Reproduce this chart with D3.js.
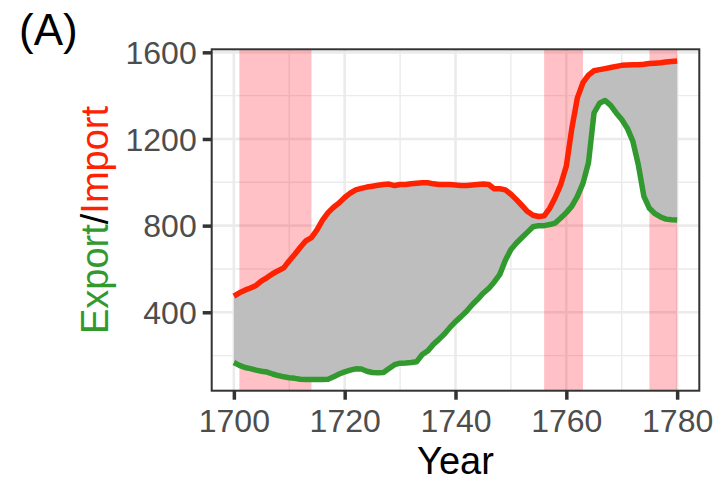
<!DOCTYPE html>
<html>
<head>
<meta charset="utf-8">
<script src="https://cdn.jsdelivr.net/npm/d3@7"></script>
<style>
  html, body { margin: 0; padding: 0; background: #fff; }
  svg { display: block; font-family: "Liberation Sans", Arial, sans-serif; }
</style>
</head>
<body>
<svg id="chart" width="714" height="481"></svg>
<script>
// Years of the series
const years = d3.range(1700, 1781);

// Imports (upper line)
const imports = [
  475, 490, 502, 512, 524, 545, 560, 578, 592, 605,
  638, 668, 700, 730, 745, 780, 825, 860, 885, 905,
  930, 950, 965, 972, 978, 982, 986, 990, 992, 985,
  990, 990, 993, 996, 998, 998, 993, 990, 990, 990,
  988, 985, 985, 988, 990, 992, 990, 970, 970, 965,
  945, 920, 893, 865, 848, 842, 845, 880, 930, 990,
  1075, 1250, 1390, 1460, 1495, 1515, 1520, 1525, 1530, 1535,
  1540, 1542, 1543, 1543, 1545, 1548, 1550, 1552, 1555, 1558,
  1560
];

// Exports (lower line)
const exports = [
  168, 155, 145, 140, 133, 128, 124, 115, 108, 102,
  98, 95, 91, 90, 90, 90, 90, 91, 102, 115,
  125, 133, 139, 138, 128, 122, 121, 122, 140, 158,
  165, 166, 168, 172, 205, 222, 252, 275, 300, 330,
  357, 380, 405, 435, 460, 488, 510, 540, 575, 640,
  690, 720, 745, 770, 795, 800, 800, 805, 812, 835,
  860, 890, 935, 995, 1090, 1320, 1365, 1378, 1355, 1320,
  1290, 1250, 1190, 1080, 935, 880, 855, 840, 830, 827,
  826
];

// War periods shaded in the background
const warStart = [1701, 1756, 1775];
const warEnd   = [1714, 1763, 1780];

const xTicks = [1700, 1720, 1740, 1760, 1780];
const xMinor = [1710, 1730, 1750, 1770];
const yTicks = [400, 800, 1200, 1600];
const yMinor = [200, 600, 1000, 1400];

const panel = { left: 211.7, right: 699.3, top: 49.3, bottom: 390.7 };

const x = d3.scaleLinear().domain([1696, 1784]).range([panel.left, panel.right]);
const y = d3.scaleLinear().domain([38, 1614]).range([panel.bottom, panel.top]);

const svg = d3.select("#chart");
const data = years.map((yr, i) => ({ year: yr, imp: imports[i], exp: exports[i] }));

// Grid lines
const grid = svg.append("g");
grid.selectAll("line.xminor").data(xMinor).join("line")
  .attr("x1", d => x(d)).attr("x2", d => x(d))
  .attr("y1", panel.top).attr("y2", panel.bottom)
  .attr("stroke", "#ebebeb").attr("stroke-width", 1.4);
grid.selectAll("line.yminor").data(yMinor).join("line")
  .attr("y1", d => y(d)).attr("y2", d => y(d))
  .attr("x1", panel.left).attr("x2", panel.right)
  .attr("stroke", "#ebebeb").attr("stroke-width", 1.4);
grid.selectAll("line.xmajor").data(xTicks).join("line")
  .attr("x1", d => x(d)).attr("x2", d => x(d))
  .attr("y1", panel.top).attr("y2", panel.bottom)
  .attr("stroke", "#ebebeb").attr("stroke-width", 2.6);
grid.selectAll("line.ymajor").data(yTicks).join("line")
  .attr("y1", d => y(d)).attr("y2", d => y(d))
  .attr("x1", panel.left).attr("x2", panel.right)
  .attr("stroke", "#ebebeb").attr("stroke-width", 2.6);

// War shading
svg.append("g").selectAll("rect").data(warStart).join("rect")
  .attr("x", d => x(d))
  .attr("width", (d, i) => x(warEnd[i]) - x(d))
  .attr("y", panel.top)
  .attr("height", panel.bottom - panel.top)
  .attr("fill", "#ff0a23")
  .attr("fill-opacity", 0.26);

// Trade gap ribbon
svg.append("path").datum(data)
  .attr("d", d3.area().x(d => x(d.year)).y0(d => y(d.exp)).y1(d => y(d.imp)))
  .attr("fill", "#bebebe");

// Lines
svg.append("path").datum(data)
  .attr("d", d3.line().x(d => x(d.year)).y(d => y(d.exp)))
  .attr("fill", "none").attr("stroke", "#32992f")
  .attr("stroke-width", 5.5).attr("stroke-linejoin", "round");
svg.append("path").datum(data)
  .attr("d", d3.line().x(d => x(d.year)).y(d => y(d.imp)))
  .attr("fill", "none").attr("stroke", "#ff2200")
  .attr("stroke-width", 5.5).attr("stroke-linejoin", "round");

// Panel border
svg.append("rect")
  .attr("x", panel.left).attr("y", panel.top)
  .attr("width", panel.right - panel.left).attr("height", panel.bottom - panel.top)
  .attr("fill", "none").attr("stroke", "#333333").attr("stroke-width", 2);

// Axes
const xAxis = svg.append("g")
  .attr("transform", `translate(0,${panel.bottom})`)
  .call(d3.axisBottom(x).tickValues(xTicks).tickFormat(d3.format("d")).tickSize(9).tickPadding(5));
const yAxis = svg.append("g")
  .attr("transform", `translate(${panel.left},0)`)
  .call(d3.axisLeft(y).tickValues(yTicks).tickFormat(d3.format("d")).tickSize(9).tickPadding(6));

[xAxis, yAxis].forEach(a => {
  a.select(".domain").remove();
  a.selectAll(".tick line").attr("stroke", "#333333").attr("stroke-width", 3.5);
  a.selectAll(".tick text")
    .attr("fill", "#4d4d4d")
    .attr("font-size", 32)
    .attr("font-family", "\"Liberation Sans\", Arial, sans-serif");
});
xAxis.selectAll(".tick text").attr("dy", null).attr("y", 41);
yAxis.selectAll(".tick text").attr("dy", "0.35em");

// Axis titles
svg.append("text")
  .attr("x", (panel.left + panel.right) / 2).attr("y", 474)
  .attr("text-anchor", "middle")
  .style("font-size", "38px").attr("fill", "#000")
  .text("Year");

const yTitle = svg.append("text")
  .attr("transform", `translate(108,${(panel.top + panel.bottom) / 2}) rotate(-90)`)
  .attr("text-anchor", "middle")
  .style("font-size", "38px");
yTitle.append("tspan").attr("fill", "#32992f").text("Export");
yTitle.append("tspan").attr("fill", "#000").text("/");
yTitle.append("tspan").attr("fill", "#ff2200").text("Import");

// Panel tag
svg.append("text")
  .attr("x", 19).attr("y", 45)
  .style("font-size", "44px").attr("fill", "#000")
  .text("(A)");
</script>
</body>
</html>
